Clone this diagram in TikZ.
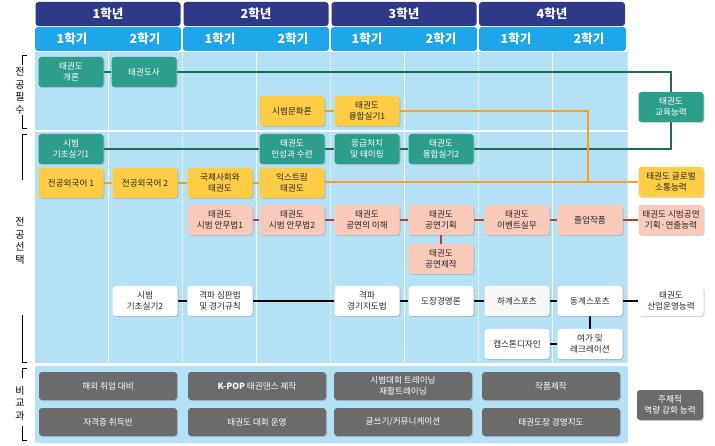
\documentclass[tikz,border=0pt]{standalone}
\usepackage{fontspec}
\setmainfont{Noto Sans CJK KR}
\usetikzlibrary{shadows,backgrounds}
\definecolor{navy}{HTML}{2E3A87}
\definecolor{sem}{HTML}{1DA6EA}
\definecolor{bgblue}{HTML}{B5E1F6}
\definecolor{teal}{HTML}{2E9E8C}
\definecolor{yel}{HTML}{FFCD45}
\definecolor{sal}{HTML}{F9C9BA}
\definecolor{gry}{HTML}{6B6B6B}
\definecolor{lgreen}{HTML}{1E6B55}
\definecolor{lorange}{HTML}{F7A21B}
\definecolor{lred}{HTML}{C0392B}
\tikzset{
 x=1pt,y=-1pt,
 box/.style={rounded corners=3pt,minimum width=65pt,minimum height=30pt,align=center,font=\fontsize{8.6}{10.5}\selectfont,inner sep=1pt,drop shadow={opacity=0.35,shadow xshift=1pt,shadow yshift=-1pt}},
 tl/.style={box,fill=teal,text=white},
 yl/.style={box,fill=yel,text=black!85},
 sl/.style={box,fill=sal,text=black!85},
 wl/.style={box,fill=white,text=black!85},
 gl/.style={box,fill=gry,text=white,minimum width=138pt,minimum height=28pt},
 gline/.style={lgreen,line width=1.3pt},
 oline/.style={lorange,line width=1.3pt},
 rline/.style={lred,line width=1.3pt},
 kline/.style={black,line width=1.3pt},
 yr/.style={fill=navy,rounded corners=3pt,text=white,font=\bfseries\fontsize{12.5}{14}\selectfont},
 sm/.style={text=white,font=\bfseries\fontsize{12.5}{14}\selectfont},
 brk/.style={black,line width=0.7pt},
 vlab/.style={font=\fontsize{10}{12.5}\selectfont,align=center,inner sep=0pt}
}
\begin{document}
\begin{tikzpicture}
\useasboundingbox (0,0) rectangle (715,446);
% headers
\node[yr,minimum width=145pt,minimum height=24pt] (y1) at (108,14) {1학년};
\node[yr,minimum width=145pt,minimum height=24pt] (y2) at (256,14) {2학년};
\node[yr,minimum width=145pt,minimum height=24pt] (y3) at (404,14) {3학년};
\node[yr,minimum width=146pt,minimum height=24pt] (y4) at (552,14) {4학년};
\fill[sem,rounded corners=3pt] (35,27) rectangle (181,51);
\fill[sem,rounded corners=3pt] (183,27) rectangle (329,51);
\fill[sem,rounded corners=3pt] (331,27) rectangle (477,51);
\fill[sem,rounded corners=3pt] (479,27) rectangle (626,51);
\node[sm] (s1) at (72,39) {1학기};
\node[sm] (s2) at (145,39) {2학기};
\node[sm] (s3) at (220,39) {1학기};
\node[sm] (s4) at (293,39) {2학기};
\node[sm] (s5) at (367,39) {1학기};
\node[sm] (s6) at (441,39) {2학기};
\node[sm] (s7) at (516,39) {1학기};
\node[sm] (s8) at (589,39) {2학기};
% left labels
\node[vlab] (l1) at (20,91) {전\\공\\필\\수};
\draw[brk] (27,55)--(22,55)--(22,65);
\draw[brk] (22,115)--(22,128)--(27,128);
\draw[brk] (27,134)--(22,134)--(22,180);
\node[vlab] (l2) at (20,241) {전\\공\\선\\택};
\draw[brk] (22,315)--(22,362)--(27,362);
\draw[brk] (27,368)--(22,368)--(22,378);
\node[vlab] (l3) at (20,403) {비\\교\\과};
\draw[brk] (22,426)--(22,440)--(27,440);
% nodes
\node[tl] (a1) at (71,72) {태권도\\개론};
\node[tl] (a2) at (144,72) {태권도사};
\node[yl] (a3) at (292,111) {시범문화론};
\node[yl] (a4) at (367,111) {태권도\\융합실기1};
\node[tl] (b1) at (71,149) {시범\\기초실기1};
\node[tl] (b2) at (292,149) {태권도\\인성과 수련};
\node[tl] (b3) at (367,149) {응급처치\\및 테이핑};
\node[tl] (b4) at (441,149) {태권도\\융합실기2};
\node[yl] (c1) at (71,183) {전공외국어 1};
\node[yl] (c2) at (145,183) {전공외국어 2};
\node[yl] (c3) at (220,183) {국제사회와\\태권도};
\node[yl] (c4) at (292,183) {익스트림\\태권도};
\node[sl] (d1) at (220,220) {태권도\\시범 안무법1};
\node[sl] (d2) at (292,220) {태권도\\시범 안무법2};
\node[sl] (d3) at (367,220) {태권도\\공연의 이해};
\node[sl] (d4) at (441,220) {태권도\\공연기획};
\node[sl] (d5) at (517,220) {태권도\\이벤트실무};
\node[sl] (d6) at (590,220) {졸업작품};
\node[sl] (d7) at (671,220) {태권도 시범공연\\기획·연출능력};
\node[sl] (d8) at (441,259) {태권도\\공연제작};
\node[wl] (e1) at (145,301) {시범\\기초실기2};
\node[wl] (e2) at (220,301) {격파 심판법\\및 경기규칙};
\node[wl] (e3) at (367,301) {격파\\경기지도법};
\node[wl] (e4) at (441,301) {도장경영론};
\node[wl,fill=black!3] (e5) at (517,301) {하계스포츠};
\node[wl] (e6) at (590,301) {동계스포츠};
\node[wl] (e7) at (671,301) {태권도\\산업운영능력};
\node[wl] (f1) at (517,344) {캡스톤디자인};
\node[wl] (f2) at (590,344) {여가 및\\레크레이션};
\node[tl] (r1) at (671,107) {태권도\\교육능력};
\node[yl] (r2) at (671,182) {태권도 글로벌\\소통능력};
% gray
\node[gl] (g1) at (108,386) {해외 취업 대비};
\node[gl] (g2) at (257,386) {\textbf{K-POP} 태권댄스 제작};
\node[gl] (g3) at (403,386) {시범대회 트레이닝\\재활트레이닝};
\node[gl] (g4) at (551,386) {작품제작};
\node[gl] (h1) at (108,422) {자격증 취득반};
\node[gl] (h2) at (257,422) {태권도 대회 운영};
\node[gl] (h3) at (403,422) {글쓰기/커뮤니케이션};
\node[gl] (h4) at (551,422) {태권도장 경영지도};
\node[box,fill=gry,text=white,minimum width=66pt] (r3) at (670,405) {주체적\\역량 강화 능력};
\coordinate (gc1) at (671,72);
\coordinate (gc2) at (671,149);
\coordinate (oc1) at (588,111);
\coordinate (oc2) at (588,182);
\begin{scope}[on background layer]
\fill[white] (0,0) rectangle (715,446);
\fill[bgblue] (35,52) rectangle (627,363);
\fill[bgblue,rounded corners=2pt] (35,366) rectangle (628,443);
\draw[white,line width=2pt] (35,131) -- (627,131);
\foreach \x in {108,256,404,552}{\draw[white!85!bgblue,line width=0.6pt] (\x,52)--(\x,363);}
\foreach \x in {182,330,478}{\draw[white,line width=1pt,densely dotted] (\x,52)--(\x,363);}
\draw[white!70!gray,densely dotted] (627,52)--(627,363);
% green
\draw[gline] (a1) -- (a2) -- (gc1) -- (gc2) -- (b4);
\draw[gline] (b1) -- (b2) -- (b3) -- (b4);
% orange
\draw[oline] (a3) -- (a4) -- (oc1) -- (oc2);
\draw[oline] (c1) -- (c2) -- (c3) -- (c4) -- (c4.east |- r2) -- (r2);
% red
\draw[rline] (d1) -- (d2) -- (d3) -- (d4) -- (d5) -- (d6) -- (d7);
\draw[rline] (d4) -- (d8);
% black
\draw[kline] (e1) -- (e2) -- (e3) -- (e4) -- (e5) -- (e6) -- (e7);
\draw[kline] (e6) -- (f2) -- (f1);
\end{scope}
\end{tikzpicture}
\end{document}
